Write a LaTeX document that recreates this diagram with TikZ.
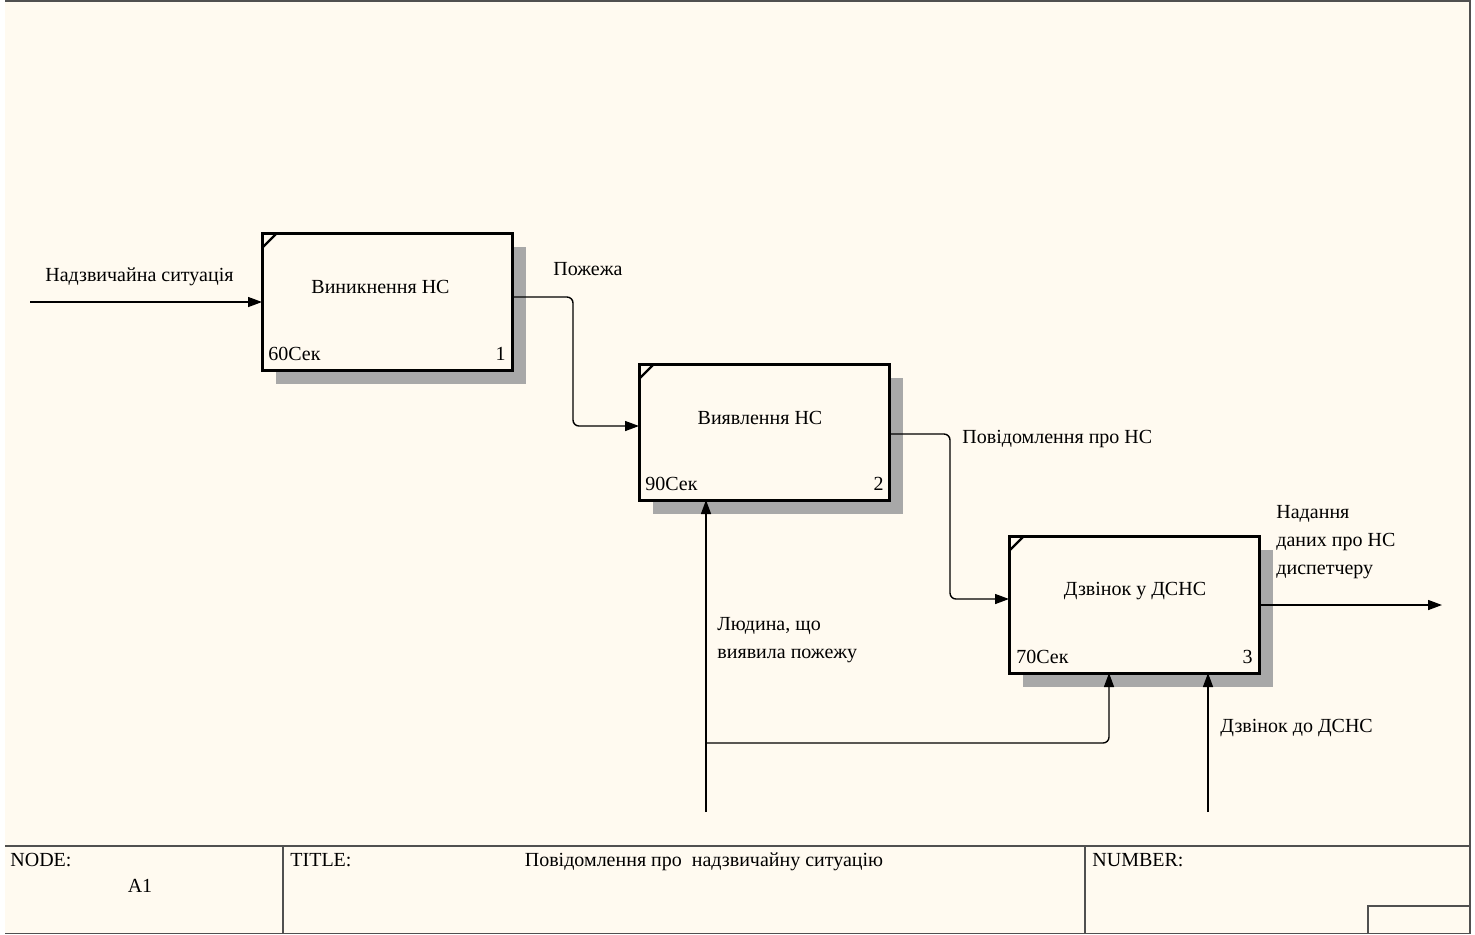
\documentclass[tikz,border=0pt]{standalone}
\usepackage{fontspec}
\setmainfont{Liberation Serif}
\usetikzlibrary{arrows.meta}
\definecolor{cream}{HTML}{FFFAF0}
\definecolor{framec}{HTML}{505050}
\definecolor{shadowc}{HTML}{A8A8A8}
\begin{document}
\begin{tikzpicture}[x=0.5pt,y=-0.5pt,
  every node/.style={font=\fontsize{10}{14}\selectfont, inner sep=0pt},
  procbox/.style={draw=black, line width=1.5pt, fill=cream, minimum width=125pt, minimum height=68.5pt, outer sep=0pt},
  arr/.style={line width=0.7pt, -{Triangle[length=7pt,width=5pt]}, rounded corners=3pt},
  tick/.style={line width=1.1pt},
  frameline/.style={draw=framec, line width=0.75pt},
  lbl/.style={anchor=base west, align=left}]
\useasboundingbox (0,0) rectangle (1475,934);
\fill[white] (0,0) rectangle (1475,934);
\fill[cream] (5,0) rectangle (1470,934);
% frame
\draw[frameline] (5,0.75) -- (1470,0.75) -- (1470,934);
\draw[frameline] (5,846) -- (1470,846);
\draw[frameline] (5,933.25) -- (1470,933.25);
\draw[frameline] (283,846) -- (283,934);
\draw[frameline] (1085,846) -- (1085,934);
\draw[frameline] (1368,934) -- (1368,906) -- (1470,906);
\node[anchor=base west] (nodelbl) at (10,866) {NODE:};
\node[anchor=base] (nodeval) at (140,892) {A1};
\node[anchor=base west] (titlelbl) at (290,866) {TITLE:};
\node[anchor=base] (titleval) at (704,866) {Повідомлення про\ \ надзвичайну ситуацію};
\node[anchor=base west] (numlbl) at (1092,866) {NUMBER:};
% shadows
\fill[shadowc] (276,247) rectangle (526,384);
\fill[shadowc] (653,378) rectangle (903,514);
\fill[shadowc] (1023,550) rectangle (1273,687);
% boxes
\node[procbox] (b1) at (387,301.5) {};
\node[procbox, minimum height=68pt] (b2) at (764,432) {};
\node[procbox] (b3) at (1134,604.5) {};
\draw[tick] ([yshift=-7.5pt]b1.north west) -- ([xshift=7.5pt]b1.north west);
\draw[tick] ([yshift=-7.5pt]b2.north west) -- ([xshift=7.5pt]b2.north west);
\draw[tick] ([yshift=-7.5pt]b3.north west) -- ([xshift=7.5pt]b3.north west);
\node[anchor=base] (t1) at (380.5,293) {Виникнення НС};
\node[anchor=base] (t2) at (760,424) {Виявлення НС};
\node[anchor=base] (t3) at (1135,595) {Дзвінок у ДСНС};
\node[anchor=base west] (c1) at (268,360) {60Сек};
\node[anchor=base east] (n1) at (506,360) {1};
\node[anchor=base west] (c2) at (645,490) {90Сек};
\node[anchor=base east] (n2) at (884,490) {2};
\node[anchor=base west] (c3) at (1016,663) {70Сек};
\node[anchor=base east] (n3) at (1253,663) {3};
% connectors
\coordinate (in1) at (30,302);
\coordinate (out3) at (1442,605);
\coordinate (m1) at (706,812);
\coordinate (br) at (706,743);
\coordinate (m2) at (1208,812);
\draw[arr] (in1) -- (in1 -| b1.west);
\draw[arr] ([yshift=2.25pt]b1.east) -- (573,297) -- (573,426) -- ([yshift=3pt]b2.west);
\draw[arr] ([yshift=-1pt]b2.east) -- (950,434) -- (950,599) -- ([yshift=2.75pt]b3.west);
\draw[arr] (b3.east |- out3) -- (out3);
\draw[arr] (m1) -- (m1 |- b2.south);
\draw[arr] (br) -- (1109,743) -- (1109,673 |- b3.south);
\draw[arr] (m2) -- (m2 |- b3.south);
% labels
\node[lbl] (l1) at (45,281) {Надзвичайна ситуація};
\node[lbl] (l2) at (553,275) {Пожежа};
\node[lbl] (l3) at (962,443) {Повідомлення про НС};
\node[lbl] (l4) at (1276,574) {Надання\\даних про НС\\диспетчеру};
\node[lbl] (l5) at (717,658) {Людина, що\\виявила пожежу};
\node[lbl] (l6) at (1220,732) {Дзвінок до ДСНС};
\end{tikzpicture}
\end{document}
